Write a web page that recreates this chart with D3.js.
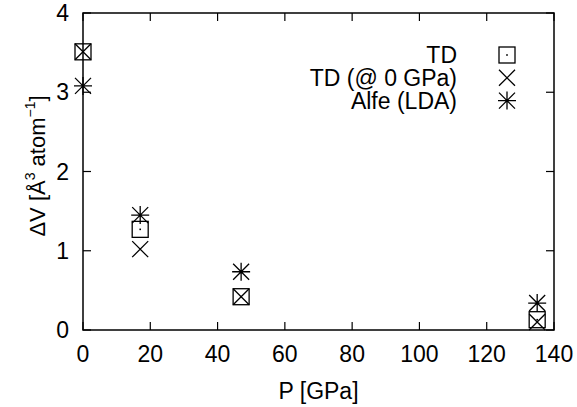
<!DOCTYPE html>
<html><head><meta charset="utf-8">
<script src="https://cdn.jsdelivr.net/npm/d3@7"></script>
<style>body{margin:0;background:#fff}svg{display:block}text{font-family:"Liberation Sans",Arial,sans-serif;fill:#000}</style>
</head><body>
<svg id="c" width="577" height="407"></svg>
<script>
const pressure = [0, 17, 47, 135];
const tdValues = [3.51, 1.27, 0.42, 0.13];
const tdZeroValues = [3.51, 1.02, 0.42, 0.10];
const alfeValues = [3.08, 1.45, 0.735, 0.34];
const seriesNames = ["TD", "TD (@ 0 GPa)", "Alfe (LDA)"];
const xTicks = [0, 20, 40, 60, 80, 100, 120, 140];
const yTicks = [0, 1, 2, 3, 4];

const svg = d3.select("#c");
const L = 83, R = 554, T = 13, B = 330;
const x = d3.scaleLinear().domain([0, 140]).range([L, R]);
const y = d3.scaleLinear().domain([0, 4]).range([B, T]);
const fs = 23, tk = 8, S = 8;

// Ticks (inward, mirrored)
const g = svg.append("g").attr("stroke", "#000").attr("stroke-width", 1.2);
xTicks.forEach(v => {
  g.append("line").attr("x1", x(v)).attr("x2", x(v)).attr("y1", B).attr("y2", B - tk);
  g.append("line").attr("x1", x(v)).attr("x2", x(v)).attr("y1", T).attr("y2", T + tk);
});
yTicks.forEach(v => {
  g.append("line").attr("x1", L).attr("x2", L + tk).attr("y1", y(v)).attr("y2", y(v));
  g.append("line").attr("x1", R).attr("x2", R - tk).attr("y1", y(v)).attr("y2", y(v));
});
svg.append("rect").attr("x", L).attr("y", T).attr("width", R - L).attr("height", B - T)
  .attr("fill", "none").attr("stroke", "#000").attr("stroke-width", 1.5);

// Tick labels
xTicks.forEach(v => svg.append("text").attr("x", x(v)).attr("y", B + 32).attr("text-anchor", "middle")
  .attr("font-size", fs).text(v));
yTicks.forEach(v => svg.append("text").attr("x", 69).attr("y", y(v) + 8).attr("text-anchor", "end")
  .attr("font-size", fs).text(v));

// Axis titles
svg.append("text").attr("x", (L + R) / 2).attr("y", 399).attr("text-anchor", "middle")
  .attr("font-size", fs).text("P [GPa]");
const yl = svg.append("text").attr("transform", "translate(45,166) rotate(-90)")
  .attr("text-anchor", "middle").attr("font-size", 22);
yl.append("tspan").text("ΔV [Å");
yl.append("tspan").attr("font-size", 14).attr("dy", -10).text("3");
yl.append("tspan").attr("dy", 10).text(" atom");
yl.append("tspan").attr("font-size", 14).attr("dy", -10).text("−1");
yl.append("tspan").attr("dy", 10).text("]");

// Marker painters
function square(sel, cx, cy) {
  sel.append("rect").attr("x", cx - S).attr("y", cy - S).attr("width", 2 * S).attr("height", 2 * S)
    .attr("fill", "none").attr("stroke", "#000").attr("stroke-width", 1.3);
  sel.append("rect").attr("x", cx - 0.8).attr("y", cy - 0.8).attr("width", 1.6).attr("height", 1.6).attr("fill", "#000");
}
function cross(sel, cx, cy) {
  sel.append("path").attr("d", `M${cx - S},${cy - S}L${cx + S},${cy + S}M${cx - S},${cy + S}L${cx + S},${cy - S}`)
    .attr("stroke", "#000").attr("stroke-width", 1.3).attr("fill", "none");
}
function star(sel, cx, cy) {
  sel.append("path").attr("d", `M${cx - S},${cy - S}L${cx + S},${cy + S}M${cx - S},${cy + S}L${cx + S},${cy - S}M${cx - S - 1},${cy}L${cx + S + 1},${cy}M${cx},${cy - S - 1}L${cx},${cy + S + 1}`)
    .attr("stroke", "#000").attr("stroke-width", 1.3).attr("fill", "none");
}
const painters = [square, cross, star];
const series = [tdValues, tdZeroValues, alfeValues];

const pts = svg.append("g");
series.forEach((vals, i) => {
  pressure.forEach((p, j) => painters[i](pts, x(p), y(vals[j])));
});

// Legend
const lg = svg.append("g");
seriesNames.forEach((name, i) => {
  const ly = 55 + i * 22.8;
  lg.append("text").attr("x", 457).attr("y", ly + 8).attr("text-anchor", "end").attr("font-size", fs).text(name);
  painters[i](lg, 507, ly);
});
</script>
</body></html>
